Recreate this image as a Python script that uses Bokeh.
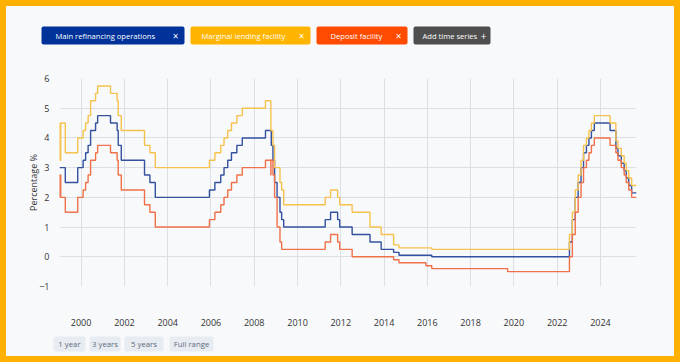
import pandas as pd
from bokeh.plotting import figure
from bokeh.layouts import column
from bokeh.models import Range1d, FixedTicker, DatetimeTickFormatter, ColumnDataSource
from bokeh.core.properties import value
from bokeh.embed import file_html
from bokeh.resources import INLINE

# ---------------- data ----------------
END_DATE = "2025-09-01"

mro_dates = ["1999-01-01", "1999-04-09", "1999-11-05", "2000-02-04", "2000-03-17", "2000-04-28",
             "2000-06-09", "2000-09-01", "2000-10-06", "2001-05-11", "2001-08-31", "2001-09-18",
             "2001-11-09", "2002-12-06", "2003-03-07", "2003-06-06", "2005-12-06", "2006-03-08",
             "2006-06-15", "2006-08-09", "2006-10-11", "2006-12-13", "2007-03-14", "2007-06-13",
             "2008-07-09", "2008-10-15", "2008-11-12", "2008-12-10", "2009-01-21", "2009-03-11",
             "2009-04-08", "2009-05-13", "2011-04-13", "2011-07-13", "2011-11-09", "2011-12-14",
             "2012-07-11", "2013-05-08", "2013-11-13", "2014-06-11", "2014-09-10", "2016-03-16",
             "2022-07-27", "2022-09-14", "2022-11-02", "2022-12-21", "2023-02-08", "2023-03-22",
             "2023-05-10", "2023-06-21", "2023-08-02", "2023-09-20", "2024-06-12", "2024-09-18",
             "2024-10-23", "2024-12-18", "2025-02-05", "2025-03-12", "2025-04-23", "2025-06-11"]
mro_values = [3.00, 2.50, 3.00, 3.25, 3.50, 3.75,
              4.25, 4.50, 4.75, 4.50, 4.25, 3.75,
              3.25, 2.75, 2.50, 2.00, 2.25, 2.50,
              2.75, 3.00, 3.25, 3.50, 3.75, 4.00,
              4.25, 3.75, 3.25, 2.50, 2.00, 1.50,
              1.25, 1.00, 1.25, 1.50, 1.25, 1.00,
              0.75, 0.50, 0.25, 0.15, 0.05, 0.00,
              0.50, 1.25, 2.00, 2.50, 3.00, 3.50,
              3.75, 4.00, 4.25, 4.50, 4.25, 3.65,
              3.40, 3.15, 2.90, 2.65, 2.40, 2.15]

mlf_dates = ["1999-01-01", "1999-01-04", "1999-01-22", "1999-04-09", "1999-11-05", "2000-02-04",
             "2000-03-17", "2000-04-28", "2000-06-09", "2000-09-01", "2000-10-06", "2001-05-11",
             "2001-08-31", "2001-09-18", "2001-11-09", "2002-12-06", "2003-03-07", "2003-06-06",
             "2005-12-06", "2006-03-08", "2006-06-15", "2006-08-09", "2006-10-11", "2006-12-13",
             "2007-03-14", "2007-06-13", "2008-07-09", "2008-10-08", "2008-10-09", "2008-11-12",
             "2008-12-10", "2009-03-11", "2009-04-08", "2009-05-13", "2011-04-13", "2011-07-13",
             "2011-11-09", "2011-12-14", "2012-07-11", "2013-05-08", "2013-11-13", "2014-06-11",
             "2014-09-10", "2016-03-16", "2022-07-27", "2022-09-14", "2022-11-02", "2022-12-21",
             "2023-02-08", "2023-03-22", "2023-05-10", "2023-06-21", "2023-08-02", "2023-09-20",
             "2024-06-12", "2024-09-18", "2024-10-23", "2024-12-18", "2025-02-05", "2025-03-12",
             "2025-04-23", "2025-06-11"]
mlf_values = [4.50, 3.25, 4.50, 3.50, 4.00, 4.25,
              4.50, 4.75, 5.25, 5.50, 5.75, 5.50,
              5.25, 4.75, 4.25, 3.75, 3.50, 3.00,
              3.25, 3.50, 3.75, 4.00, 4.25, 4.50,
              4.75, 5.00, 5.25, 4.75, 4.25, 3.75,
              3.00, 2.50, 2.25, 1.75, 2.00, 2.25,
              2.00, 1.75, 1.50, 1.00, 0.75, 0.40,
              0.30, 0.25, 0.75, 1.50, 2.25, 2.75,
              3.25, 3.75, 4.00, 4.25, 4.50, 4.75,
              4.50, 3.90, 3.65, 3.40, 3.15, 2.90,
              2.65, 2.40]

df_dates = ["1999-01-01", "1999-01-04", "1999-01-22", "1999-04-09", "1999-11-05", "2000-02-04",
            "2000-03-17", "2000-04-28", "2000-06-09", "2000-09-01", "2000-10-06", "2001-05-11",
            "2001-08-31", "2001-09-18", "2001-11-09", "2002-12-06", "2003-03-07", "2003-06-06",
            "2005-12-06", "2006-03-08", "2006-06-15", "2006-08-09", "2006-10-11", "2006-12-13",
            "2007-03-14", "2007-06-13", "2008-07-09", "2008-10-08", "2008-10-09", "2008-11-12",
            "2008-12-10", "2009-01-21", "2009-03-11", "2009-04-08", "2011-04-13", "2011-07-13",
            "2011-11-09", "2011-12-14", "2012-07-11", "2014-06-11", "2014-09-10", "2015-12-09",
            "2016-03-16", "2019-09-18", "2022-07-27", "2022-09-14", "2022-11-02", "2022-12-21",
            "2023-02-08", "2023-03-22", "2023-05-10", "2023-06-21", "2023-08-02", "2023-09-20",
            "2024-06-12", "2024-09-18", "2024-10-23", "2024-12-18", "2025-02-05", "2025-03-12",
            "2025-04-23", "2025-06-11"]
df_values = [2.00, 2.75, 2.00, 1.50, 2.00, 2.25,
             2.50, 2.75, 3.25, 3.50, 3.75, 3.50,
             3.25, 2.75, 2.25, 1.75, 1.50, 1.00,
             1.25, 1.50, 1.75, 2.00, 2.25, 2.50,
             2.75, 3.00, 3.25, 2.75, 3.25, 2.75,
             2.00, 1.00, 0.50, 0.25, 0.50, 0.75,
             0.50, 0.25, 0.00, -0.10, -0.20, -0.30,
             -0.40, -0.50, 0.00, 0.75, 1.50, 2.00,
             2.50, 3.00, 3.25, 3.50, 3.75, 4.00,
             3.75, 3.50, 3.25, 3.00, 2.75, 2.50,
             2.25, 2.00]

series_names = ["Main refinancing operations", "Marginal lending facility", "Deposit facility"]
chip_colors = ["#003299", "#FFB400", "#FF4B00"]
line_colors = ["#33519F", "#F6C24E", "#EF7149"]

y_ticks = [-1, 0, 1, 2, 3, 4, 5, 6]
x_tick_years = list(range(2000, 2025, 2))
range_buttons = ["1 year", "3 years", "5 years", "Full range"]
add_label = "Add time series"
y_label = "Percentage %"

# ---------------- style ----------------
BG = "#F8F9FB"
GRID = "#DCDFE6"
FONT = "Open Sans"
W = 668


def bare(fig):
    fig.axis.visible = False
    fig.grid.visible = False
    fig.outline_line_color = None
    fig.background_fill_color = BG
    fig.border_fill_color = BG
    return fig


# ---------------- top figure: series chips ----------------
TOP_H = 62
top = bare(figure(width=W, height=TOP_H, x_range=Range1d(0, W), y_range=Range1d(TOP_H, 0),
                  output_backend="svg", toolbar_location=None, min_border=0,
                  min_border_left=0, min_border_right=0, min_border_top=0, min_border_bottom=0,
                  frame_align=False))

chip_left = [35, 184, 310, 407]
chip_right = [178, 304, 401, 484]
chip_inset = [14, 11, 14, 9]
chip_fill = chip_colors + ["#4F4F4F"]
chip_text = series_names + [add_label]
chip_sym = ["\u00d7", "\u00d7", "\u00d7", "+"]
csrc = ColumnDataSource(dict(left=chip_left, right=chip_right, top=[20] * 4, bottom=[38] * 4,
                             fill=chip_fill, text=chip_text,
                             tx=[l + d for l, d in zip(chip_left, chip_inset)],
                             sx=[r - 9 for r in chip_right[:3]] + [chip_right[3] - 7],
                             sym=chip_sym, ty=[29.5] * 4))
top.quad(left="left", right="right", top="top", bottom="bottom", fill_color="fill",
         line_color=None, source=csrc, border_radius=2)
top.text(x="tx", y="ty", text="text", source=csrc, text_color="#FFFFFF",
         text_font=value(FONT), text_font_size="7.6px", text_baseline="middle", text_align="left")
top.text(x="sx", y="ty", text="sym", source=csrc, text_color="#FFFFFF",
         text_font=value(FONT), text_font_size="10px", text_baseline="middle", text_align="center")

# ---------------- main chart ----------------
end = pd.Timestamp(END_DATE)
p = figure(width=W, height=262, x_axis_type="datetime",
           x_range=Range1d(pd.Timestamp("1999-01-01"), end), y_range=Range1d(-1, 6),
           output_backend="svg", toolbar_location=None, frame_align=False,
           min_border_left=53, min_border_right=38, min_border_top=10, min_border_bottom=44)
p.background_fill_color = BG
p.border_fill_color = BG
p.outline_line_color = None

for dates, vals, col in [(mro_dates, mro_values, line_colors[0]),
                         (mlf_dates, mlf_values, line_colors[1]),
                         (df_dates, df_values, line_colors[2])]:
    xs = list(pd.to_datetime(dates)) + [end]
    ys = list(vals) + [vals[-1]]
    p.step(xs, ys, mode="after", line_color=col, line_width=1.4)

p.xaxis.ticker = FixedTicker(ticks=[pd.Timestamp(f"{y}-01-01").value // 10**6 for y in x_tick_years])
p.xaxis.formatter = DatetimeTickFormatter(years="%Y", months="%Y", days="%Y", hours="%Y",
                                          minutes="%Y", seconds="%Y", milliseconds="%Y")
p.yaxis.ticker = FixedTicker(ticks=y_ticks)
for ax in (p.xaxis[0], p.yaxis[0]):
    ax.axis_line_color = None
    ax.major_tick_line_color = None
    ax.minor_tick_line_color = None
    ax.major_label_text_font = FONT
    ax.major_label_text_font_size = "9px"
    ax.major_label_text_color = "#333333"
p.xaxis.major_label_standoff = 26
p.yaxis.major_label_standoff = 4
p.yaxis.axis_label = y_label
p.yaxis.axis_label_text_font = FONT
p.yaxis.axis_label_text_font_style = "normal"
p.yaxis.axis_label_text_font_size = "9px"
p.yaxis.axis_label_text_color = "#333333"
p.yaxis.axis_label_standoff = -4
p.grid.grid_line_color = GRID
p.grid.grid_line_width = 1

# ---------------- bottom figure: range buttons ----------------
BOT_H = 26
bot = bare(figure(width=W, height=BOT_H, x_range=Range1d(0, W), y_range=Range1d(BOT_H, 0),
                  output_backend="svg", toolbar_location=None, min_border=0,
                  min_border_left=0, min_border_right=0, min_border_top=0, min_border_bottom=0,
                  frame_align=False))
b_left = [47, 83, 118, 163]
b_right = [79, 114, 157, 207]
bsrc = ColumnDataSource(dict(left=b_left, right=b_right, top=[6] * 4, bottom=[21] * 4,
                             x=[(l + r) / 2 for l, r in zip(b_left, b_right)], y=[13.5] * 4,
                             text=range_buttons))
bot.quad(left="left", right="right", top="top", bottom="bottom", fill_color="#E7EBF2",
         line_color=None, source=bsrc, border_radius=2)
bot.text(x="x", y="y", text="text", source=bsrc, text_color="#5E6B7B",
         text_font=value(FONT), text_font_size="7.8px", text_baseline="middle", text_align="center")

layout = column(top, p, bot, spacing=0, margin=(6, 6, 6, 6),
                styles={"background-color": BG})
html = file_html(layout, INLINE)
html = html.replace("</head>", "<style>html,body{background:#FFB000;}</style></head>", 1)
open("out.html", "w").write(html)
